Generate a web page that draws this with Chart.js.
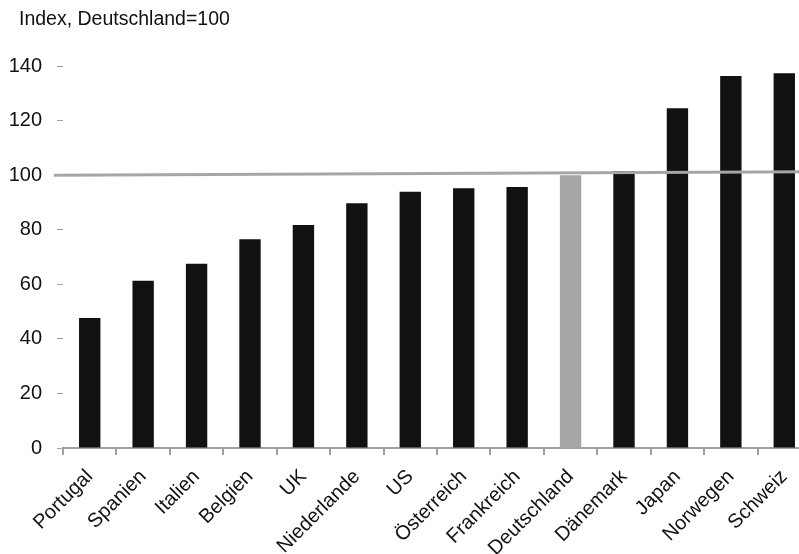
<!DOCTYPE html>
<html>
<head>
<meta charset="utf-8">
<script src="https://cdn.jsdelivr.net/npm/chart.js@4"></script>
<style>
  html, body { margin: 0; padding: 0; background: #fff; overflow: hidden; }
  #wrap { width: 812px; height: 554px; }
</style>
</head>
<body>
<div id="wrap"><canvas id="chart"></canvas></div>
<script>
  // Index, Deutschland = 100
  const countries = ['Portugal', 'Spanien', 'Italien', 'Belgien', 'UK', 'Niederlande', 'US',
    'Österreich', 'Frankreich', 'Deutschland', 'Dänemark', 'Japan', 'Norwegen', 'Schweiz'];
  const indexValues = [47.6, 61.3, 67.5, 76.5, 81.7, 89.7, 93.9, 95.2, 95.7, 100, 101.5, 124.5, 136.3, 137.3];
  const yTicks = [0, 20, 40, 60, 80, 100, 120, 140];
  // reference line at 100 (slightly tilted in the original)
  const refLineX = [-0.17, 14];
  const refLineY = [100, 101.2];
  const titleText = 'Index, Deutschland=100';

  const FONT = 'Liberation Sans, Arial, sans-serif';

  const barColors = countries.map(c => c === 'Deutschland' ? '#a6a6a6' : '#111111');

  // title drawn at the top left, outside the axis box
  const titlePlugin = {
    id: 'topTitle',
    afterDraw(chart) {
      const c = chart.ctx;
      c.save();
      c.font = '19.5px ' + FONT;
      c.fillStyle = '#111';
      c.textBaseline = 'middle';
      c.textAlign = 'left';
      c.fillText(titleText, 19, 20);
      c.restore();
    }
  };

  const ctx = document.getElementById('chart').getContext('2d');
  new Chart(ctx, {
    type: 'bar',
    data: {
      labels: countries,
      datasets: [{
        type: 'bar',
        data: indexValues,
        backgroundColor: barColors,
        barPercentage: 0.5,
        categoryPercentage: 0.8,
        grouped: false,
        order: 2
      }, {
        type: 'line',
        xAxisID: 'xLine',
        data: refLineX.map((x, i) => ({ x: x, y: refLineY[i] })),
        borderColor: '#a6a6a6',
        borderWidth: 3,
        pointRadius: 0,
        clip: false,
        order: 1
      }]
    },
    plugins: [titlePlugin],
    options: {
      responsive: true,
      maintainAspectRatio: false,
      animation: false,
      layout: { padding: { left: 0, right: 1, top: 66, bottom: 0 } },
      plugins: {
        legend: { display: false },
        tooltip: { enabled: false },
        title: { display: false }
      },
      scales: {
        x: {
          type: 'category',
          grid: { display: true, drawOnChartArea: false, offset: true, color: '#a0a0a0', lineWidth: 2, tickLength: 7 },
          border: { display: true, color: '#a0a0a0', width: 2 },
          ticks: {
            color: '#111',
            font: { family: FONT, size: 20 },
            maxRotation: 45,
            minRotation: 45,
            autoSkip: false,
            padding: 10
          },
          afterFit: s => { s.height = 106; }
        },
        xLine: {
          type: 'linear',
          display: false,
          offset: false,
          min: 0,
          max: 14
        },
        y: {
          min: 0,
          max: 140,
          afterBuildTicks: s => { s.ticks = yTicks.map(v => ({ value: v })); },
          grid: { display: true, drawOnChartArea: false, color: '#a0a0a0', lineWidth: 1, tickLength: 6 },
          border: { display: false },
          ticks: {
            color: '#111',
            font: { family: FONT, size: 20 },
            padding: 15
          },
          afterFit: s => { s.width = 63; }
        }
      }
    }
  });
</script>
</body>
</html>
